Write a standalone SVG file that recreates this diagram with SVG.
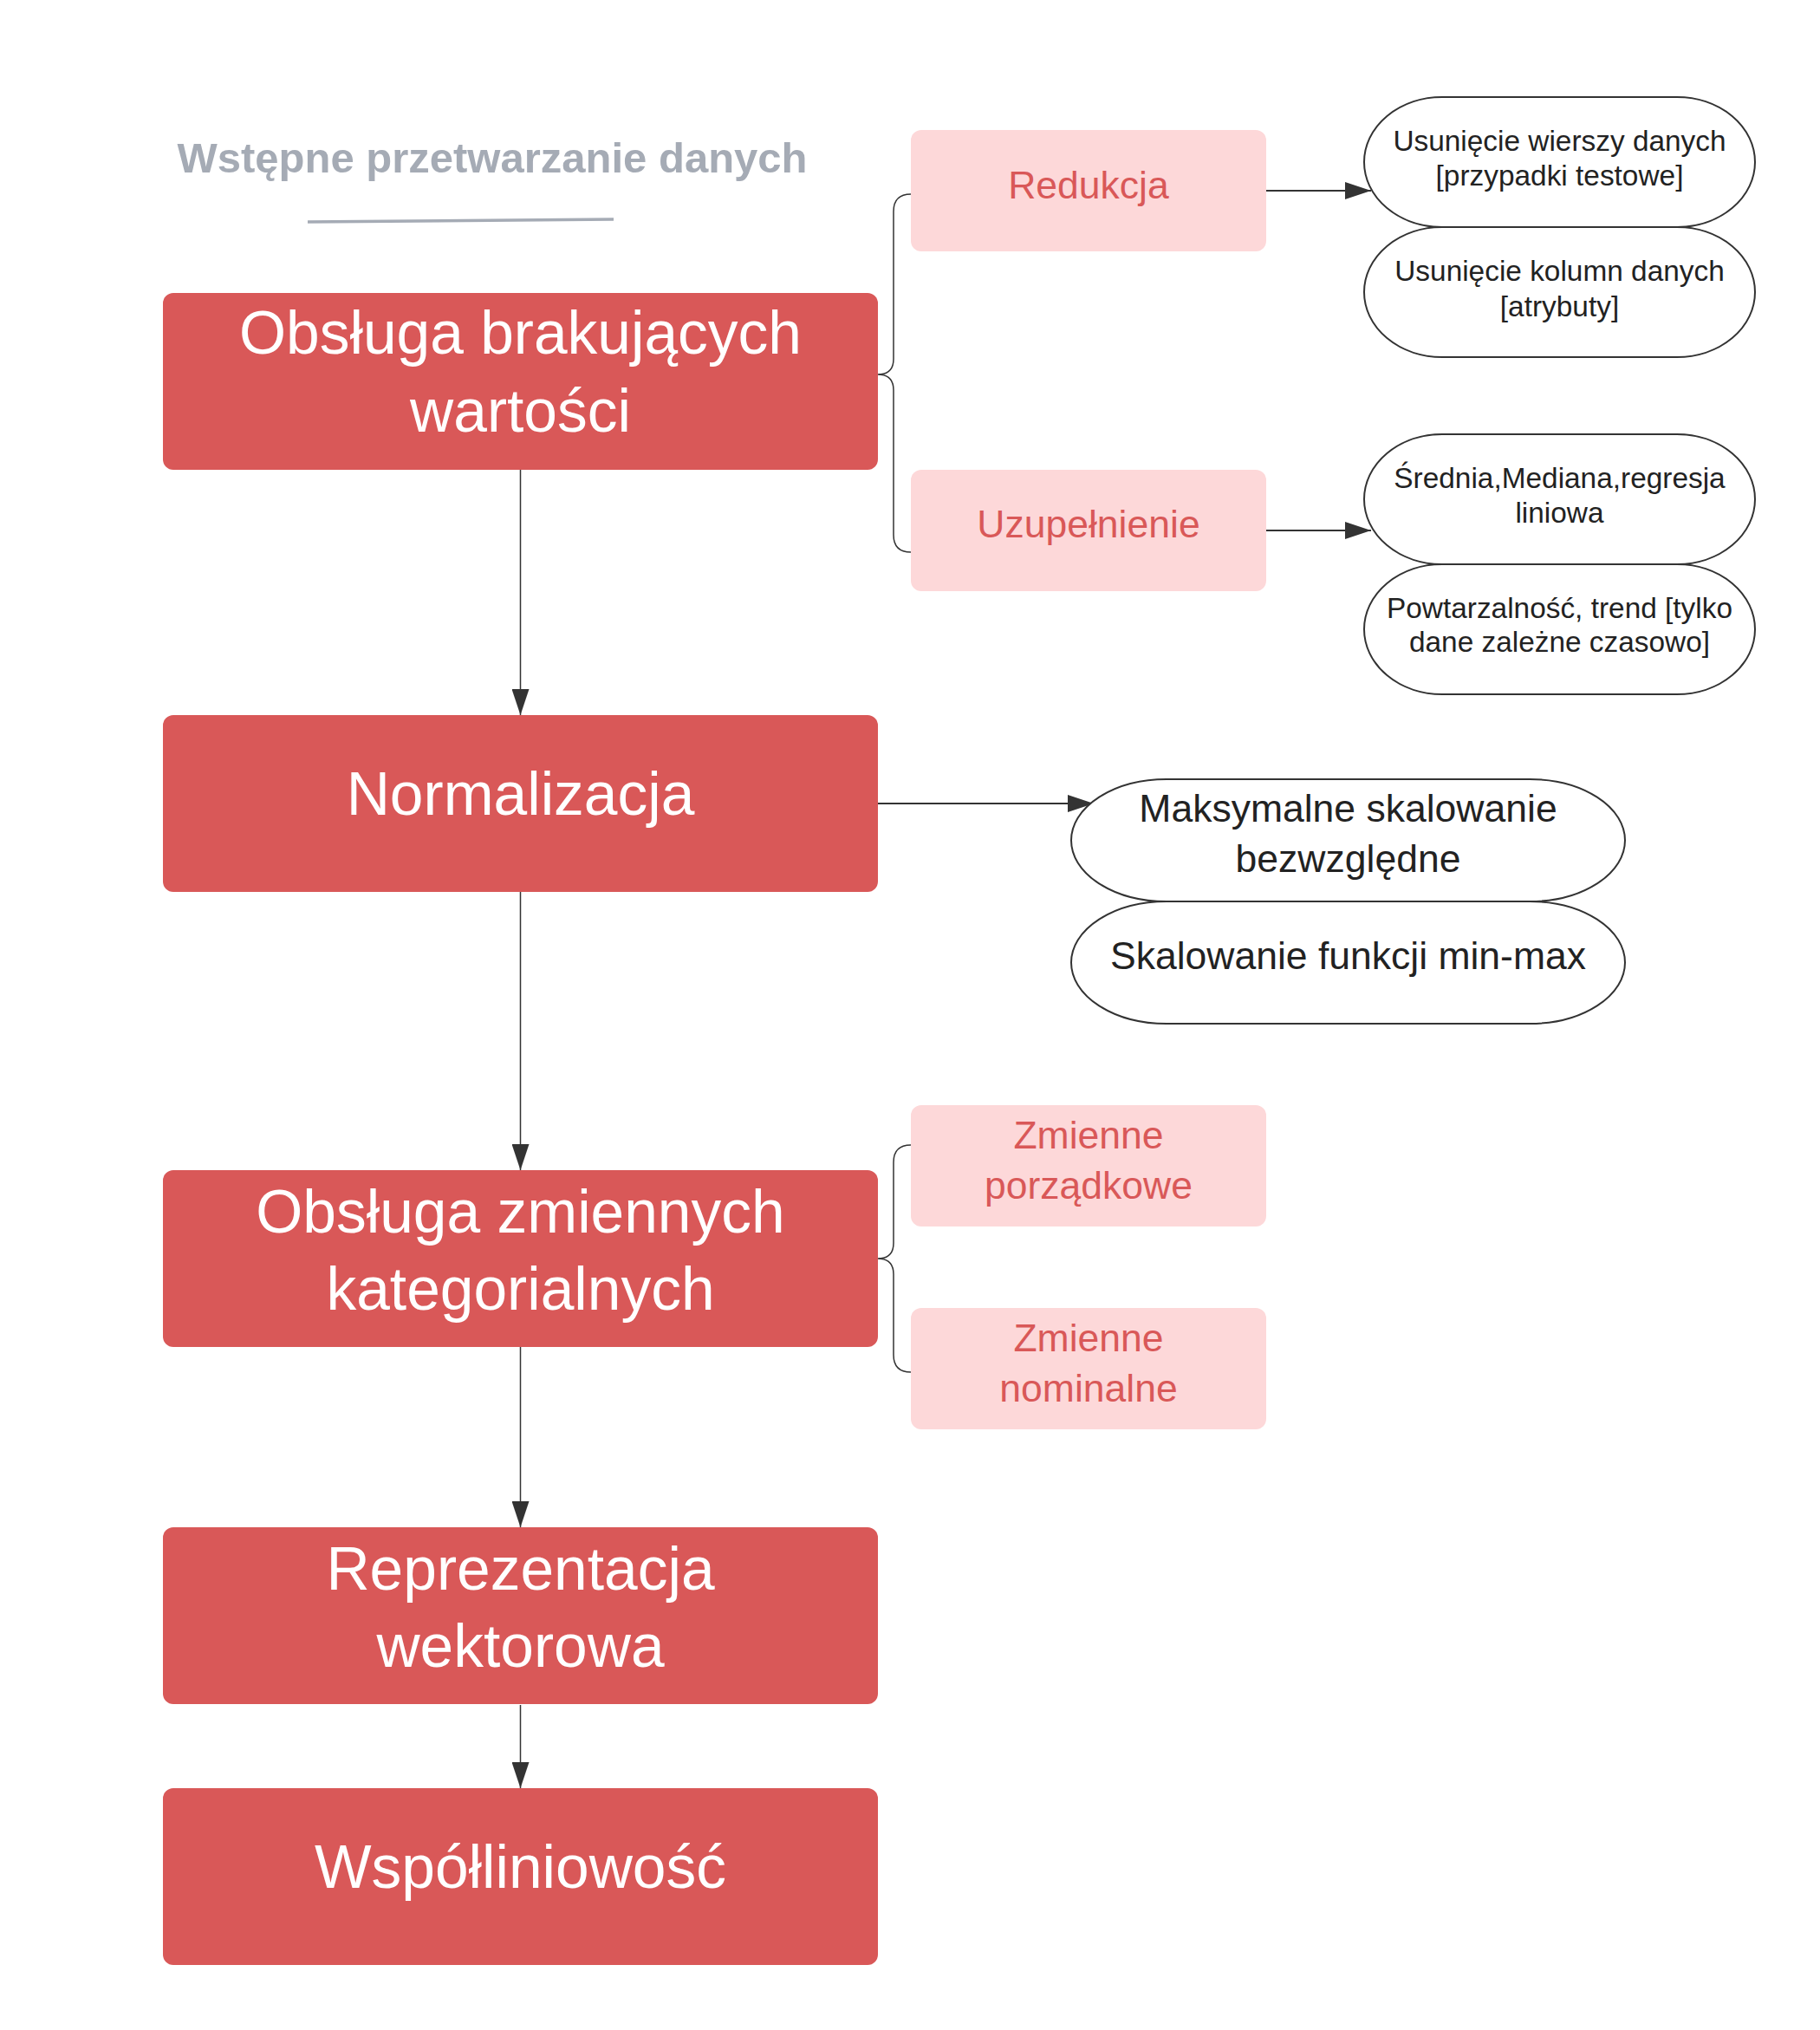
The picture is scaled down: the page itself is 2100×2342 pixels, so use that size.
<svg xmlns="http://www.w3.org/2000/svg" width="2100" height="2342" viewBox="0 0 2100 2342">
<style>
text{font-family:"Liberation Sans",Arial,sans-serif;text-anchor:middle}
.main rect{fill:#d95858}
.main text{fill:#ffffff;font-size:69.5px}
.sub rect{fill:#fdd8d9}
.sub text{fill:#d95858;font-size:44.5px}
.pill rect{fill:#ffffff;stroke:#333333;stroke-width:2}
.pill text{fill:#222222;font-size:33.4px}
.pill2 text{fill:#222222;font-size:44.5px}
.title{fill:#a5abb5;font-size:49px;font-weight:bold}
.conn path{fill:none;stroke:#333333}
.thin{stroke-width:1.5}
.thick{stroke-width:2}
</style>
<defs>
<marker id="ah" markerUnits="userSpaceOnUse" markerWidth="30" markerHeight="20" viewBox="0 0 30 20" refX="30" refY="10" orient="auto">
<path d="M0,0 L30,10 L0,20 z" fill="#333333"/>
</marker>
</defs>
<rect width="2100" height="2342" fill="#ffffff"/>
<g id="title">
<text class="title" x="568" y="199">Wstępne przetwarzanie danych</text>
<path d="M355,256 L708,253" stroke="#a5abb5" stroke-width="3.5" fill="none"/>
</g>
<g class="conn" id="connectors">
<path class="thin" d="M600.5,542 L600.5,825" marker-end="url(#ah)"/>
<path class="thin" d="M600.5,1029 L600.5,1350" marker-end="url(#ah)"/>
<path class="thin" d="M600.5,1554 L600.5,1762" marker-end="url(#ah)"/>
<path class="thin" d="M600.5,1967 L600.5,2063" marker-end="url(#ah)"/>
<path class="thick" d="M1461,220 L1582,220" marker-end="url(#ah)"/>
<path class="thick" d="M1461,612 L1582,612" marker-end="url(#ah)"/>
<path class="thick" d="M1013,927 L1262,927" marker-end="url(#ah)"/>
<path class="thin" d="M1051,224 Q1031,224 1031,244 L1031,414 Q1031,432 1013,432 Q1031,432 1031,450 L1031,617 Q1031,637 1051,637"/>
<path class="thin" d="M1051,1321 Q1031,1321 1031,1341 L1031,1434 Q1031,1452 1013,1452 Q1031,1452 1031,1470 L1031,1563 Q1031,1583 1051,1583"/>
</g>
<g id="n1" class="main">
<rect x="188" y="338" width="825" height="204" rx="12"/>
<text x="600.5" y="408">Obsługa brakujących</text>
<text x="600.5" y="498">wartości</text>
</g>
<g id="n2" class="main">
<rect x="188" y="825" width="825" height="204" rx="12"/>
<text x="600.5" y="940">Normalizacja</text>
</g>
<g id="n3" class="main">
<rect x="188" y="1350" width="825" height="204" rx="12"/>
<text x="600.5" y="1422">Obsługa zmiennych</text>
<text x="600.5" y="1511">kategorialnych</text>
</g>
<g id="n4" class="main">
<rect x="188" y="1762" width="825" height="204" rx="12"/>
<text x="600.5" y="1834">Reprezentacja</text>
<text x="600.5" y="1923">wektorowa</text>
</g>
<g id="n5" class="main">
<rect x="188" y="2063" width="825" height="204" rx="12"/>
<text x="600.5" y="2178">Współliniowość</text>
</g>
<g id="s1" class="sub">
<rect x="1051" y="150" width="410" height="140" rx="12"/>
<text x="1256" y="229">Redukcja</text>
</g>
<g id="s2" class="sub">
<rect x="1051" y="542" width="410" height="140" rx="12"/>
<text x="1256" y="620">Uzupełnienie</text>
</g>
<g id="s3" class="sub">
<rect x="1051" y="1275" width="410" height="140" rx="12"/>
<text x="1256" y="1325">Zmienne</text>
<text x="1256" y="1383">porządkowe</text>
</g>
<g id="s4" class="sub">
<rect x="1051" y="1509" width="410" height="140" rx="12"/>
<text x="1256" y="1559">Zmienne</text>
<text x="1256" y="1617">nominalne</text>
</g>
<g id="p1" class="pill">
<rect x="1574" y="112" width="451" height="150" rx="90" ry="75"/>
<text x="1799.5" y="174">Usunięcie wierszy danych</text>
<text x="1799.5" y="214">[przypadki testowe]</text>
</g>
<g id="p2" class="pill">
<rect x="1574" y="262" width="451" height="150" rx="90" ry="75"/>
<text x="1799.5" y="324">Usunięcie kolumn danych</text>
<text x="1799.5" y="365">[atrybuty]</text>
</g>
<g id="p3" class="pill">
<rect x="1574" y="501" width="451" height="150" rx="90" ry="75"/>
<text x="1799.5" y="563">Średnia,Mediana,regresja</text>
<text x="1799.5" y="603">liniowa</text>
</g>
<g id="p4" class="pill">
<rect x="1574" y="651" width="451" height="150" rx="90" ry="75"/>
<text x="1799.5" y="713">Powtarzalność, trend [tylko</text>
<text x="1799.5" y="752">dane zależne czasowo]</text>
</g>
<g id="p5" class="pill pill2">
<rect x="1236" y="899" width="639" height="141" rx="110" ry="70.5"/>
<text x="1555.5" y="948">Maksymalne skalowanie</text>
<text x="1555.5" y="1006">bezwzględne</text>
</g>
<g id="p6" class="pill pill2">
<rect x="1236" y="1040" width="639" height="141" rx="110" ry="70.5"/>
<text x="1555.5" y="1118">Skalowanie funkcji min-max</text>
</g>
</svg>
